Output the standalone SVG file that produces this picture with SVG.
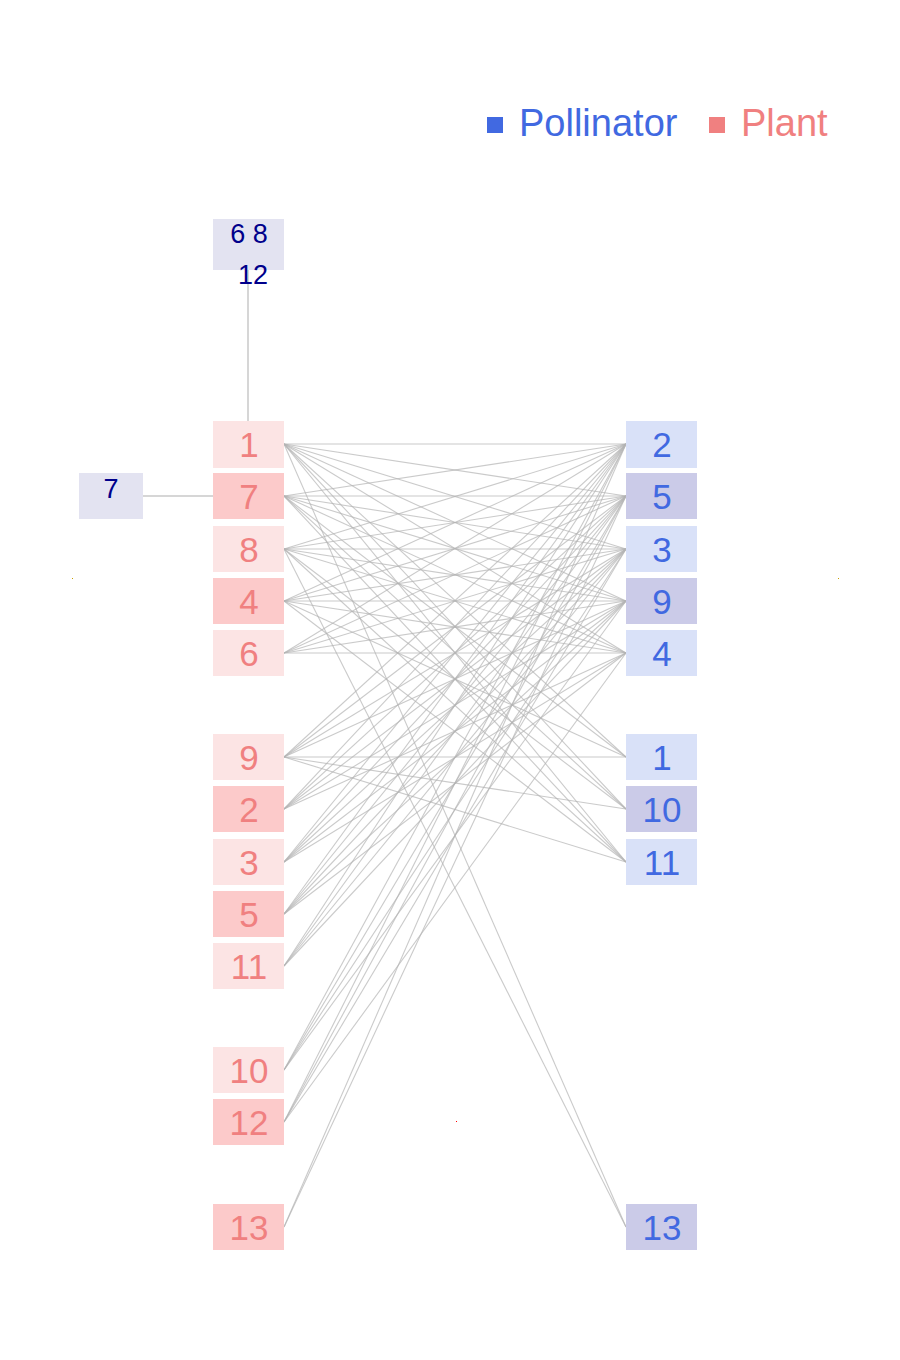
<svg xmlns="http://www.w3.org/2000/svg" width="900" height="1360" viewBox="0 0 900 1360">
<style>
.pl rect{fill:#fce4e4}
.pl.d rect{fill:#fccaca}
.pl text{fill:#f08080;font-family:"Liberation Sans",Arial,sans-serif;font-size:35px;text-anchor:middle}
.po rect{fill:#d9e1f8}
.po.d rect{fill:#cbcbe8}
.po text{fill:#4169e1;font-family:"Liberation Sans",Arial,sans-serif;font-size:35px;text-anchor:middle}
.gr rect{fill:#e3e3f1}
.gr text{fill:#00008b;font-family:"Liberation Sans",Arial,sans-serif;font-size:27px;text-anchor:middle}
.edges line{stroke:#b4b4b4;stroke-opacity:0.7;stroke-width:1.1}
.lg{font-family:"Liberation Sans",Arial,sans-serif;font-size:38px}
</style>
<rect width="900" height="1360" fill="#ffffff"/>
<g id="legend">
<rect x="487" y="117" width="16" height="16" fill="#4169e1"/>
<text class="lg" x="519" y="136" fill="#4169e1">Pollinator</text>
<rect x="709" y="117" width="16" height="16" fill="#f08080"/>
<text class="lg" x="741" y="136" fill="#f08080">Plant</text>
</g>
<g class="edges">
<line x1="248" y1="270" x2="248" y2="421" style="stroke:#d6d6d6;stroke-opacity:1;stroke-width:2"/>
<line x1="143" y1="496" x2="213" y2="496" style="stroke:#d6d6d6;stroke-opacity:1;stroke-width:2"/>
<line x1="284" y1="444" x2="626" y2="444"/><line x1="284" y1="444" x2="626" y2="496"/><line x1="284" y1="444" x2="626" y2="549"/><line x1="284" y1="444" x2="626" y2="601"/><line x1="284" y1="444" x2="626" y2="653"/>
<line x1="284" y1="496" x2="626" y2="444"/><line x1="284" y1="496" x2="626" y2="496"/><line x1="284" y1="496" x2="626" y2="549"/><line x1="284" y1="496" x2="626" y2="601"/><line x1="284" y1="496" x2="626" y2="653"/>
<line x1="284" y1="549" x2="626" y2="444"/><line x1="284" y1="549" x2="626" y2="496"/><line x1="284" y1="549" x2="626" y2="549"/><line x1="284" y1="549" x2="626" y2="601"/><line x1="284" y1="549" x2="626" y2="653"/>
<line x1="284" y1="601" x2="626" y2="444"/><line x1="284" y1="601" x2="626" y2="496"/><line x1="284" y1="601" x2="626" y2="549"/><line x1="284" y1="601" x2="626" y2="601"/><line x1="284" y1="601" x2="626" y2="653"/>
<line x1="284" y1="653" x2="626" y2="444"/><line x1="284" y1="653" x2="626" y2="496"/><line x1="284" y1="653" x2="626" y2="549"/><line x1="284" y1="653" x2="626" y2="601"/><line x1="284" y1="653" x2="626" y2="653"/>
<line x1="284" y1="444" x2="626" y2="757"/><line x1="284" y1="444" x2="626" y2="809"/><line x1="284" y1="444" x2="626" y2="862"/><line x1="284" y1="444" x2="626" y2="1227"/>
<line x1="284" y1="496" x2="626" y2="757"/><line x1="284" y1="496" x2="626" y2="809"/><line x1="284" y1="496" x2="626" y2="862"/>
<line x1="284" y1="549" x2="626" y2="809"/><line x1="284" y1="549" x2="626" y2="862"/><line x1="284" y1="549" x2="626" y2="1227"/>
<line x1="284" y1="601" x2="626" y2="757"/><line x1="284" y1="601" x2="626" y2="862"/>
<line x1="284" y1="757" x2="626" y2="757"/><line x1="284" y1="757" x2="626" y2="809"/><line x1="284" y1="757" x2="626" y2="862"/>
<line x1="284" y1="757" x2="626" y2="444"/><line x1="284" y1="757" x2="626" y2="496"/><line x1="284" y1="757" x2="626" y2="549"/><line x1="284" y1="757" x2="626" y2="601"/>
<line x1="284" y1="809" x2="626" y2="444"/><line x1="284" y1="809" x2="626" y2="496"/><line x1="284" y1="809" x2="626" y2="549"/><line x1="284" y1="809" x2="626" y2="601"/><line x1="284" y1="809" x2="626" y2="653"/>
<line x1="284" y1="862" x2="626" y2="444"/><line x1="284" y1="862" x2="626" y2="496"/><line x1="284" y1="862" x2="626" y2="549"/><line x1="284" y1="862" x2="626" y2="601"/><line x1="284" y1="862" x2="626" y2="653"/>
<line x1="284" y1="914" x2="626" y2="444"/><line x1="284" y1="914" x2="626" y2="496"/><line x1="284" y1="914" x2="626" y2="549"/><line x1="284" y1="914" x2="626" y2="601"/><line x1="284" y1="914" x2="626" y2="653"/>
<line x1="284" y1="966" x2="626" y2="444"/><line x1="284" y1="966" x2="626" y2="496"/><line x1="284" y1="966" x2="626" y2="549"/><line x1="284" y1="966" x2="626" y2="601"/>
<line x1="284" y1="1070" x2="626" y2="444"/><line x1="284" y1="1070" x2="626" y2="496"/><line x1="284" y1="1070" x2="626" y2="549"/><line x1="284" y1="1070" x2="626" y2="601"/>
<line x1="284" y1="1122" x2="626" y2="444"/><line x1="284" y1="1122" x2="626" y2="496"/><line x1="284" y1="1122" x2="626" y2="549"/><line x1="284" y1="1122" x2="626" y2="653"/>
<line x1="284" y1="1227" x2="626" y2="444"/><line x1="284" y1="1227" x2="626" y2="496"/>
</g>
<g id="group-6-8-12" class="gr"><rect x="213" y="219" width="71" height="51"/><text x="249" y="243">6 8</text><text x="253" y="284">12</text></g>
<g id="group-7" class="gr"><rect x="79" y="473" width="64" height="46"/><text x="111" y="498">7</text></g>
<g id="plant-1" class="pl"><rect x="213" y="421" width="71" height="47"/><text x="249" y="457">1</text></g>
<g id="plant-7" class="pl d"><rect x="213" y="473" width="71" height="46"/><text x="249" y="509">7</text></g>
<g id="plant-8" class="pl"><rect x="213" y="526" width="71" height="46"/><text x="249" y="562">8</text></g>
<g id="plant-4" class="pl d"><rect x="213" y="578" width="71" height="46"/><text x="249" y="614">4</text></g>
<g id="plant-6" class="pl"><rect x="213" y="630" width="71" height="46"/><text x="249" y="666">6</text></g>
<g id="plant-9" class="pl"><rect x="213" y="734" width="71" height="46"/><text x="249" y="770">9</text></g>
<g id="plant-2" class="pl d"><rect x="213" y="786" width="71" height="46"/><text x="249" y="822">2</text></g>
<g id="plant-3" class="pl"><rect x="213" y="839" width="71" height="46"/><text x="249" y="875">3</text></g>
<g id="plant-5" class="pl d"><rect x="213" y="891" width="71" height="46"/><text x="249" y="927">5</text></g>
<g id="plant-11" class="pl"><rect x="213" y="943" width="71" height="46"/><text x="249" y="979">11</text></g>
<g id="plant-10" class="pl"><rect x="213" y="1047" width="71" height="46"/><text x="249" y="1083">10</text></g>
<g id="plant-12" class="pl d"><rect x="213" y="1099" width="71" height="46"/><text x="249" y="1135">12</text></g>
<g id="plant-13" class="pl d"><rect x="213" y="1204" width="71" height="46"/><text x="249" y="1240">13</text></g>
<g id="poll-2" class="po"><rect x="626" y="421" width="71" height="47"/><text x="662" y="457">2</text></g>
<g id="poll-5" class="po d"><rect x="626" y="473" width="71" height="46"/><text x="662" y="509">5</text></g>
<g id="poll-3" class="po"><rect x="626" y="526" width="71" height="46"/><text x="662" y="562">3</text></g>
<g id="poll-9" class="po d"><rect x="626" y="578" width="71" height="46"/><text x="662" y="614">9</text></g>
<g id="poll-4" class="po"><rect x="626" y="630" width="71" height="46"/><text x="662" y="666">4</text></g>
<g id="poll-1" class="po"><rect x="626" y="734" width="71" height="46"/><text x="662" y="770">1</text></g>
<g id="poll-10" class="po d"><rect x="626" y="786" width="71" height="46"/><text x="662" y="822">10</text></g>
<g id="poll-11" class="po"><rect x="626" y="839" width="71" height="46"/><text x="662" y="875">11</text></g>
<g id="poll-13" class="po d"><rect x="626" y="1204" width="71" height="46"/><text x="662" y="1240">13</text></g>
<rect x="72" y="578" width="1" height="1" fill="#c8a000"/>
<rect x="838" y="578" width="1" height="1" fill="#c8a000"/>
<rect x="456" y="1121" width="1" height="1" fill="#ff0000"/>
</svg>
